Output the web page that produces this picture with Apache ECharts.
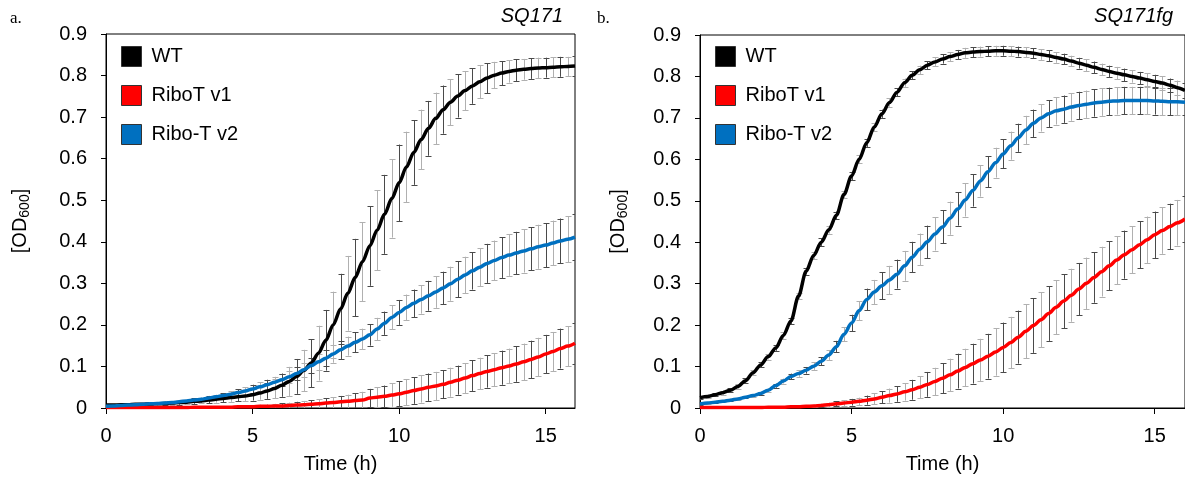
<!DOCTYPE html>
<html>
<head>
<meta charset="utf-8">
<script src="https://cdn.jsdelivr.net/npm/echarts@6/dist/echarts.min.js"></script>
<style>
html, body { margin: 0; padding: 0; background: #fff; }
#chart { width: 1185px; height: 484px; }
</style>
</head>
<body>
<div id="chart"></div>
<script>
// 生长曲线数据 (OD600, 每 0.25 h 一个点)
var seriesNames = ['WT', 'RiboT v1', 'Ribo-T v2'];
var seriesColors = ['#000000', '#ff0000', '#0070c0'];
var xTicks = [0, 5, 10, 15];

// 时间轴 0..16 h
var times = [];
for (var i = 0; i <= 64; i++) times.push(i * 0.25);

// a. SQ171
var aWT = [0.007,0.007,0.008,0.008,0.009,0.009,0.010,0.010,0.011,
    0.012,0.013,0.014,0.016,0.017,0.019,0.021,0.023,
    0.025,0.027,0.029,0.032,0.036,0.041,0.047,0.055,
    0.064,0.076,0.090,0.108,0.132,0.163,0.200,0.238,
    0.276,0.314,0.352,0.390,0.428,0.466,0.504,0.542,
    0.580,0.615,0.646,0.673,0.697,0.718,0.736,0.751,
    0.764,0.775,0.785,0.794,0.801,0.806,0.810,0.813,
    0.815,0.817,0.818,0.819,0.820,0.821,0.822,0.823];
var aWTerr = [0.002,0.002,0.002,0.003,0.003,0.003,0.003,0.004,0.004,
    0.004,0.005,0.005,0.006,0.006,0.007,0.008,0.009,
    0.010,0.011,0.012,0.014,0.016,0.019,0.023,0.028,
    0.035,0.042,0.050,0.058,0.066,0.073,0.080,0.085,
    0.090,0.093,0.095,0.096,0.096,0.095,0.094,0.092,
    0.085,0.078,0.072,0.066,0.062,0.058,0.055,0.052,
    0.047,0.043,0.040,0.036,0.032,0.029,0.027,0.026,
    0.025,0.025,0.025,0.024,0.024,0.024,0.023,0.023];
var aV1 = [0.001,0.001,0.001,0.001,0.001,0.001,0.001,0.001,0.001,
    0.001,0.001,0.001,0.002,0.002,0.002,0.002,0.002,
    0.002,0.003,0.003,0.003,0.004,0.004,0.005,0.005,
    0.006,0.007,0.008,0.009,0.010,0.012,0.013,0.015,
    0.016,0.018,0.019,0.024,0.026,0.028,0.031,0.034,
    0.038,0.042,0.046,0.050,0.053,0.057,0.062,0.067,
    0.072,0.078,0.083,0.088,0.092,0.097,0.101,0.106,
    0.111,0.117,0.123,0.130,0.136,0.143,0.149,0.156];
var aV1err = [0.001,0.001,0.001,0.001,0.001,0.001,0.001,0.001,0.001,
    0.001,0.001,0.001,0.001,0.001,0.001,0.002,0.002,
    0.002,0.002,0.003,0.003,0.004,0.004,0.005,0.006,
    0.007,0.008,0.009,0.010,0.011,0.012,0.013,0.014,
    0.016,0.018,0.020,0.022,0.024,0.026,0.028,0.030,
    0.031,0.032,0.033,0.033,0.034,0.034,0.035,0.035,
    0.036,0.037,0.038,0.039,0.040,0.041,0.042,0.043,
    0.044,0.045,0.046,0.046,0.047,0.048,0.048,0.049];
var aV2 = [0.004,0.005,0.006,0.007,0.008,0.009,0.010,0.011,0.012,
    0.013,0.015,0.017,0.019,0.021,0.024,0.027,0.030,
    0.033,0.037,0.041,0.046,0.051,0.056,0.062,0.068,
    0.075,0.083,0.092,0.102,0.111,0.120,0.130,0.140,
    0.149,0.158,0.166,0.176,0.190,0.204,0.218,0.230,
    0.242,0.252,0.261,0.270,0.279,0.289,0.299,0.310,
    0.320,0.330,0.339,0.348,0.355,0.362,0.368,0.373,
    0.378,0.383,0.388,0.392,0.397,0.402,0.406,0.411];
var aV2err = [0.001,0.001,0.001,0.001,0.001,0.002,0.002,0.002,0.002,
    0.003,0.003,0.003,0.004,0.004,0.005,0.005,0.006,
    0.007,0.008,0.009,0.010,0.011,0.012,0.013,0.014,
    0.015,0.016,0.017,0.018,0.019,0.020,0.021,0.022,
    0.023,0.024,0.025,0.026,0.027,0.028,0.029,0.030,
    0.031,0.033,0.034,0.036,0.038,0.039,0.041,0.043,
    0.044,0.045,0.046,0.047,0.048,0.049,0.050,0.051,
    0.052,0.052,0.053,0.053,0.054,0.054,0.055,0.055];

// b. SQ171fg
var bWT = [0.025,0.028,0.032,0.037,0.043,0.052,0.066,0.085,0.104,
    0.124,0.145,0.175,0.210,0.270,0.330,0.368,0.400,
    0.430,0.465,0.515,0.560,0.600,0.640,0.678,0.710,
    0.737,0.762,0.785,0.803,0.816,0.827,0.835,0.842,
    0.848,0.853,0.857,0.859,0.860,0.861,0.862,0.862,
    0.861,0.860,0.858,0.856,0.853,0.850,0.846,0.842,
    0.837,0.832,0.827,0.822,0.817,0.812,0.808,0.804,
    0.800,0.796,0.792,0.788,0.784,0.779,0.773,0.766];
var bWTerr = [0.004,0.004,0.004,0.005,0.005,0.005,0.006,0.006,0.006,
    0.007,0.007,0.008,0.008,0.008,0.008,0.009,0.009,
    0.009,0.009,0.009,0.010,0.010,0.010,0.010,0.010,
    0.010,0.010,0.010,0.010,0.010,0.010,0.011,0.011,
    0.011,0.011,0.012,0.012,0.012,0.012,0.012,0.012,
    0.012,0.012,0.012,0.012,0.013,0.013,0.013,0.013,
    0.013,0.013,0.014,0.014,0.014,0.014,0.015,0.015,
    0.015,0.015,0.016,0.016,0.016,0.016,0.017,0.017];
var bV1 = [0.001,0.001,0.001,0.001,0.001,0.001,0.001,0.001,0.001,
    0.002,0.002,0.002,0.003,0.003,0.004,0.005,0.006,
    0.008,0.010,0.012,0.014,0.016,0.019,0.022,0.026,
    0.030,0.034,0.039,0.044,0.050,0.057,0.064,0.072,
    0.080,0.089,0.098,0.107,0.116,0.125,0.135,0.146,
    0.158,0.171,0.185,0.199,0.213,0.228,0.243,0.258,
    0.272,0.287,0.301,0.315,0.329,0.343,0.357,0.370,
    0.382,0.394,0.406,0.418,0.428,0.438,0.447,0.456];
var bV1err = [0.001,0.001,0.001,0.001,0.001,0.001,0.001,0.001,0.001,
    0.001,0.001,0.002,0.002,0.002,0.003,0.003,0.004,
    0.005,0.006,0.007,0.008,0.009,0.011,0.013,0.015,
    0.017,0.019,0.021,0.024,0.027,0.030,0.033,0.036,
    0.039,0.042,0.045,0.048,0.051,0.054,0.057,0.060,
    0.062,0.064,0.065,0.066,0.066,0.066,0.065,0.065,
    0.064,0.063,0.062,0.061,0.060,0.059,0.058,0.058,
    0.057,0.057,0.056,0.056,0.056,0.055,0.055,0.055];
var bV2 = [0.010,0.012,0.014,0.016,0.019,0.022,0.026,0.030,0.035,
    0.043,0.054,0.065,0.076,0.083,0.091,0.101,0.113,
    0.128,0.148,0.178,0.205,0.235,0.262,0.280,0.295,
    0.309,0.323,0.343,0.364,0.383,0.401,0.420,0.437,
    0.458,0.480,0.502,0.525,0.548,0.570,0.592,0.613,
    0.633,0.652,0.671,0.687,0.700,0.710,0.717,0.721,
    0.726,0.730,0.733,0.736,0.738,0.740,0.741,0.742,
    0.742,0.742,0.742,0.741,0.740,0.739,0.739,0.738];
var bV2err = [0.002,0.002,0.002,0.002,0.003,0.003,0.003,0.003,0.004,
    0.004,0.005,0.006,0.007,0.008,0.008,0.009,0.010,
    0.012,0.014,0.017,0.020,0.023,0.026,0.029,0.032,
    0.034,0.035,0.036,0.037,0.038,0.039,0.040,0.040,
    0.040,0.040,0.040,0.039,0.038,0.037,0.036,0.035,
    0.034,0.034,0.034,0.033,0.033,0.033,0.033,0.033,
    0.033,0.033,0.033,0.033,0.033,0.033,0.033,0.033,
    0.033,0.033,0.033,0.033,0.033,0.032,0.032,0.032];

var panelA = [aWT, aV1, aV2];
var panelAerr = [aWTerr, aV1err, aV2err];
var panelB = [bWT, bV1, bV2];
var panelBerr = [bWTerr, bV1err, bV2err];

var FONT = '"Liberation Sans", Arial, sans-serif';

function pairs(vals) {
    return times.map(function (t, i) { return [t, vals[i]]; });
}
function triples(vals, errs) {
    return times.map(function (t, i) { return [t, vals[i], errs[i]]; });
}

// 误差棒
function errorBarItem(params, api) {
    var m = api.value(1), e = api.value(2);
    var hi = api.coord([api.value(0), m + e]);
    var lo = api.coord([api.value(0), m - e]);
    var x = Math.round(hi[0]) + 0.5;
    var w = 3;
    var col = params.dataIndex % 2 ? '#b0b0b0' : '#4a4a4a';
    var st = { stroke: col, lineWidth: 1 };
    return {
        type: 'group',
        children: [
            { type: 'line', shape: { x1: x, y1: hi[1], x2: x, y2: lo[1] }, style: st },
            { type: 'line', shape: { x1: x - w, y1: Math.round(hi[1]) + 0.5, x2: x + w, y2: Math.round(hi[1]) + 0.5 }, style: st },
            { type: 'line', shape: { x1: x - w, y1: Math.round(lo[1]) + 0.5, x2: x + w, y2: Math.round(lo[1]) + 0.5 }, style: st }
        ]
    };
}

function makeX(idx) {
    return {
        type: 'value', gridIndex: idx, min: 0, max: 16, interval: 5,
        name: 'Time (h)', nameLocation: 'middle', nameGap: 46,
        nameTextStyle: { fontSize: 20, color: '#000', fontFamily: FONT },
        axisLine: { lineStyle: { color: '#000', width: 1 } },
        axisTick: { show: true, length: 6, lineStyle: { color: '#000' } },
        axisLabel: { fontSize: 20, color: '#000', fontFamily: FONT, margin: 18, showMaxLabel: false },
        splitLine: { show: false }
    };
}
function makeY(idx, gap) {
    return {
        type: 'value', gridIndex: idx, min: 0, max: 0.9, interval: 0.1,
        name: '{a|[OD}{b|600}{a|]}', nameLocation: 'middle', nameRotate: 90, nameGap: gap,
        nameTextStyle: {
            color: '#000', fontFamily: FONT,
            rich: {
                a: { fontSize: 20, fontFamily: FONT, color: '#000' },
                b: { fontSize: 14, fontFamily: FONT, color: '#000', padding: [10, 0, 0, 0] }
            }
        },
        axisLine: { show: true, lineStyle: { color: '#000', width: 1 } },
        axisTick: { show: true, length: 5, lineStyle: { color: '#000' } },
        axisLabel: {
            fontSize: 20, color: '#000', fontFamily: FONT, margin: 19,
            formatter: function (v) { return v === 0 ? '0' : v.toFixed(1); }
        },
        splitLine: { show: false }
    };
}
function makeLegend(left) {
    return {
        left: left, top: 46, orient: 'vertical', padding: 0,
        itemWidth: 20, itemHeight: 20, itemGap: 18, icon: 'rect',
        data: seriesNames,
        itemStyle: { borderColor: '#333', borderWidth: 1 },
        textStyle: { fontSize: 20, color: '#000', fontFamily: FONT, padding: [0, 0, 0, 5] },
        selectedMode: false
    };
}

var series = [];
[[panelA, panelAerr], [panelB, panelBerr]].forEach(function (p, g) {
    p[0].forEach(function (vals, k) {
        series.push({
            type: 'custom', xAxisIndex: g, yAxisIndex: g, clip: true, silent: true, z: 1,
            renderItem: errorBarItem, data: triples(vals, p[1][k])
        });
    });
    p[0].forEach(function (vals, k) {
        series.push({
            name: seriesNames[k], type: 'line', xAxisIndex: g, yAxisIndex: g,
            data: pairs(vals), showSymbol: false, smooth: 0.3, smoothMonotone: 'x', z: 3,
            color: seriesColors[k],
            lineStyle: { width: 3.5, color: seriesColors[k] }
        });
    });
});

var chart = echarts.init(document.getElementById('chart'));
chart.setOption({
    animation: false,
    backgroundColor: '#fff',
    grid: [
        { left: 106, top: 34, width: 469, height: 374, show: true, borderColor: '#000', borderWidth: 1, backgroundColor: 'transparent' },
        { left: 700, top: 35, width: 487, height: 373, show: true, borderColor: '#000', borderWidth: 1, backgroundColor: 'transparent' }
    ],
    xAxis: [makeX(0), makeX(1)],
    yAxis: [makeY(0, 74), makeY(1, 70)],
    legend: [makeLegend(121), makeLegend(715)],
    graphic: [
        { type: 'text', left: 10, top: 10, style: { text: 'a.', fontSize: 17, fontFamily: '"Liberation Serif", serif', fill: '#000' } },
        { type: 'text', left: 597, top: 10, style: { text: 'b.', fontSize: 17, fontFamily: '"Liberation Serif", serif', fill: '#000' } },
        { type: 'text', right: 622, top: 6, style: { text: 'SQ171', fontSize: 20, fontStyle: 'italic', fontFamily: FONT, fill: '#000' } },
        { type: 'text', right: 12, top: 6, style: { text: 'SQ171fg', fontSize: 20, fontStyle: 'italic', fontFamily: FONT, fill: '#000' } }
    ],
    series: series
});
</script>
</body>
</html>
